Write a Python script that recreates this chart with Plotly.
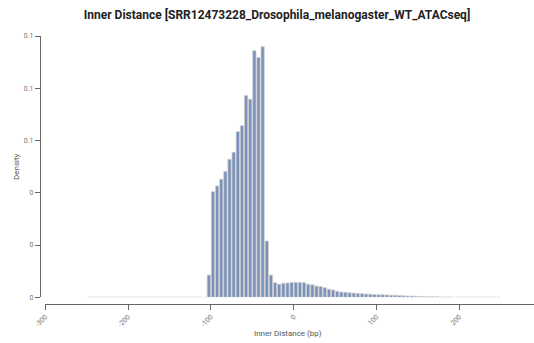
import plotly.graph_objects as go

# Inner-distance histogram: 5 bp bins, values at bin midpoints
bin_mid = [-247.5 + 5 * i for i in range(100)]
density = [
    0.0, 0.0, 0.0, 0.0, 0.0, 0.0, 0.0, 0.0, 0.0, 0.0,
    0.0, 0.0, 0.0, 0.0, 0.0, 0.0, 0.0, 0.0, 0.0, 0.0,
    0.0, 0.0, 0.0, 0.0, 0.0, 0.0, 0.0, 0.0, 0.0,
    0.0085, 0.0404, 0.0426, 0.0452, 0.0481, 0.0528, 0.0555, 0.0634, 0.0657, 0.0772,
    0.0758, 0.0944, 0.0918, 0.0959, 0.0215, 0.0085, 0.0056, 0.0050, 0.0054, 0.0055,
    0.0057, 0.0057, 0.0057, 0.0056, 0.0050, 0.0048, 0.0043, 0.0041, 0.0037, 0.0031,
    0.0028, 0.0023, 0.0020, 0.0019, 0.0017, 0.0016, 0.0015, 0.0014, 0.0013, 0.0012,
    0.0011, 0.0010, 0.0010, 0.0009, 0.0008, 0.0008, 0.0007, 0.0006, 0.0005, 0.0005,
    0.0004, 0.0003, 0.0003, 0.0002, 0.0002, 0.0002, 0.0001, 0.0001, 0.0001,
    0.0, 0.0, 0.0, 0.0, 0.0, 0.0, 0.0, 0.0, 0.0, 0.0, 0.0, 0.0,
]

x_tick_vals = [-300, -200, -100, 0, 100, 200, 300]
x_tick_text = ["-300", "-200", "-100", "0", "100", "200", "300"]
y_tick_vals = [0, 0.02, 0.04, 0.06, 0.08, 0.1]
y_tick_text = ["0", "0", "0", "0.1", "0.1", "0.1"]

title_text = "Inner Distance [SRR12473228_Drosophila_melanogaster_WT_ATACseq]"

W, H = 534, 343
left, top, bottom = 40, 36, 39
plot_w = W - left
plot_h = H - top - bottom

fig = go.Figure(
    go.Bar(
        x=bin_mid,
        y=density,
        marker=dict(color="#7a91ba", line=dict(color="#cfcfcf", width=0.8)),
    )
)

axis_font = dict(family="Roboto", size=7, color="#777777")


def px_to_paper(px_x, px_y):
    """Pixel position in the figure -> paper coordinates of the plot area."""
    return (px_x - left) / plot_w, (H - bottom - px_y) / plot_h


density_x, density_y = px_to_paper(16, 167)
xtitle_x, xtitle_y = px_to_paper(288, 333)

fig.update_layout(
    width=W,
    height=H,
    margin=dict(l=left, r=0, t=top, b=bottom, pad=0),
    paper_bgcolor="white",
    plot_bgcolor="white",
    bargap=0.2,
    showlegend=False,
    font=dict(family="Roboto", color="#555555"),
    title=dict(
        text=title_text,
        x=277 / W,
        xanchor="center",
        xref="container",
        y=1 - 15 / H,
        yanchor="middle",
        yref="container",
        font=dict(family="Roboto", size=12, color="#222222", weight="bold"),
    ),
    xaxis=dict(
        domain=[5.3 / plot_w, 1],
        range=[-300, 290.2],
        anchor="free",
        position=0,
        showline=True,
        linecolor="#666666",
        linewidth=1.2,
        ticks="outside",
        ticklen=5,
        tickcolor="#666666",
        tickvals=x_tick_vals,
        ticktext=x_tick_text,
        tickangle=-45,
        tickfont=axis_font,
        showgrid=False,
        zeroline=False,
    ),
    yaxis=dict(
        domain=[(304 - 297.3) / plot_h, 1],
        range=[0, 0.1],
        anchor="free",
        position=0,
        showline=True,
        linecolor="#666666",
        linewidth=1.2,
        ticks="outside",
        ticklen=5,
        tickcolor="#666666",
        tickvals=y_tick_vals,
        ticktext=y_tick_text,
        tickfont=axis_font,
        showgrid=False,
        zeroline=False,
    ),
    annotations=[
        dict(
            text="Density",
            x=density_x, y=density_y,
            xref="paper", yref="paper",
            xanchor="center", yanchor="middle",
            showarrow=False,
            textangle=-90,
            font=dict(family="Roboto", size=8, color="#555555"),
        ),
        dict(
            text="Inner Distance (bp)",
            x=xtitle_x, y=xtitle_y,
            xref="paper", yref="paper",
            xanchor="center", yanchor="middle",
            showarrow=False,
            font=dict(family="Roboto", size=8, color="#555555"),
        ),
    ],
)

fig.write_html("out.html")
